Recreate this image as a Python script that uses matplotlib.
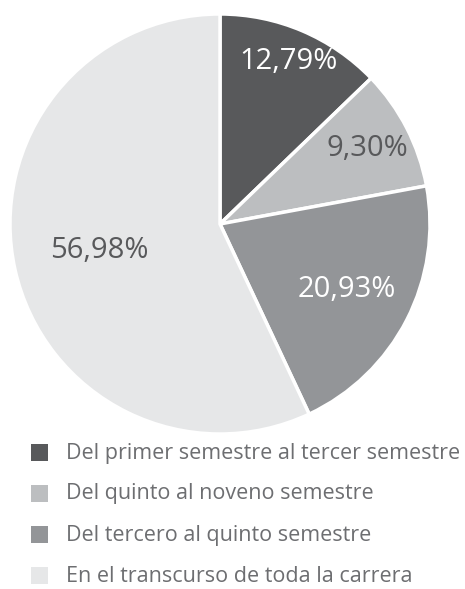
import matplotlib
matplotlib.use("Agg")
import matplotlib.pyplot as plt
from matplotlib.patches import Rectangle
import numpy as np

categories = ["Del primer semestre al tercer semestre",
              "Del quinto al noveno semestre",
              "Del tercero al quinto semestre",
              "En el transcurso de toda la carrera"]
values = [12.79, 9.30, 20.93, 56.98]
labels = ["12,79%", "9,30%", "20,93%", "56,98%"]
colors = ["#58595b", "#bcbec0", "#939598", "#e6e7e8"]
text_colors = ["white", "#58595b", "white", "#58595b"]
label_radius = [0.84, 0.79, 0.68, 0.59]

plt.rcParams['font.family'] = ['Open Sans', 'DejaVu Sans']

W, H = 465, 589
fig = plt.figure(figsize=(W/100, H/100), dpi=100)
cx, cy, R = 220, 224, 210
ax = fig.add_axes([(cx-R)/W, 1-(cy+R)/H, 2*R/W, 2*R/H])
wedges, _ = ax.pie(values, colors=colors, startangle=90, counterclock=False,
                   wedgeprops=dict(edgecolor="white", linewidth=2.5))
ax.set_xlim(-1, 1); ax.set_ylim(-1, 1); ax.set_aspect('equal')
ax.axis('off')

for w, lab, tc, r in zip(wedges, labels, text_colors, label_radius):
    ang = np.deg2rad((w.theta1 + w.theta2) / 2)
    ax.text(r*np.cos(ang), r*np.sin(ang), lab, ha='center', va='center',
            fontsize=21, color=tc)

rows = [453, 494, 535, 576]
for cat, c, y in zip(categories, colors, rows):
    fig.patches.append(Rectangle((31/W, 1-(y+8)/H), 17/W, 17/H, transform=fig.transFigure,
                                 facecolor=c, edgecolor='none'))
    fig.text(66/W, 1-y/H, cat, ha='left', va='center', fontsize=15.5, color="#6d6e71")

fig.savefig("out.png", dpi=100, facecolor="white")
